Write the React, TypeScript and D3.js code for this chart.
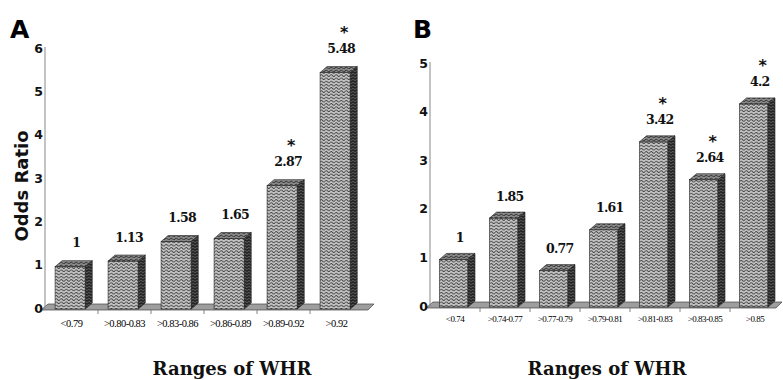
import React from "react";
import * as d3 from "d3";

// Panel A
const catsA = ["<0.79", ">0.80-0.83", ">0.83-0.86", ">0.86-0.89", ">0.89-0.92", ">0.92"];
const valsA = [1, 1.13, 1.58, 1.65, 2.87, 5.48];
const starA = [false, false, false, false, true, true];
const ticksA = [0, 1, 2, 3, 4, 5, 6];

// Panel B
const catsB = ["<0.74", ">0.74-0.77", ">0.77-0.79", ">0.79-0.81", ">0.81-0.83", ">0.83-0.85", ">0.85"];
const valsB = [1, 1.85, 0.77, 1.61, 3.42, 2.64, 4.2];
const starB = [false, false, false, false, true, true, true];
const ticksB = [0, 1, 2, 3, 4, 5];

const W = 783;
const H = 380;
const serif = "'DejaVu Serif', serif";
const sans = "'DejaVu Sans', 'Liberation Sans', sans-serif";

interface PanelProps {
  letter: string;
  letterX: number;
  cats: string[];
  vals: number[];
  stars: boolean[];
  ticks: number[];
  xRange: [number, number];
  yRange: [number, number];
  floorEnd: number;
  catY: number;
  catSize: number;
  labelOff: number;
  titleX: number;
  yTitle?: boolean;
}

function Panel(p: PanelProps) {
  const max = p.ticks[p.ticks.length - 1];
  const x = d3.scaleBand<string>().domain(p.cats).range(p.xRange).padding(0);
  const y = d3.scaleLinear().domain([0, max]).range(p.yRange);
  const step = x.step();
  const bw = step * 0.57;
  const off = step * 0.19;
  const dx = 7;
  const dy = 6;
  const axisX = p.xRange[0];
  const y0 = y(0);

  return (
    <g>
      <text x={p.letterX} y={38} fontFamily={sans} fontWeight="bold" fontSize={25}>{p.letter}</text>
      {/* floor */}
      <polygon
        points={`${axisX - 4},${y0 + 3} ${p.floorEnd},${y0 + 3} ${p.floorEnd + 6},${y0 - 3} ${axisX + 3},${y0 - 3}`}
        fill="#9e9e9e" stroke="#444" strokeWidth={0.7} />
      {/* y axis */}
      <line x1={axisX} x2={axisX} y1={y(max)} y2={y0 + 3} stroke="#888" strokeWidth={1} />
      {p.ticks.map(t => (
        <text key={t} x={axisX - 2} y={y(t) + 2} textAnchor="end" dominantBaseline="middle"
          fontFamily={sans} fontWeight="bold" fontSize={12.5} fill="#111">{t}</text>
      ))}
      {/* category ticks */}
      {p.cats.slice(1).map(c => (
        <line key={c} x1={x(c)!} x2={x(c)!} y1={y0 + 3} y2={y0 + 7} stroke="#666" strokeWidth={0.8} />
      ))}
      {p.cats.map((c, i) => {
        const v = p.vals[i];
        const bx = (x(c) as number) + off;
        const top = y(v) + 3;
        const bot = y0 + 2;
        const cx = bx + bw / 2;
        return (
          <g key={c}>
            <rect x={bx} y={top} width={bw} height={bot - top} fill="url(#waveFront)" stroke="#222" strokeWidth={0.6} />
            <polygon points={`${bx},${top} ${bx + dx},${top - dy} ${bx + bw + dx},${top - dy} ${bx + bw},${top}`}
              fill="url(#waveTop)" stroke="#222" strokeWidth={0.6} />
            <polygon points={`${bx + bw},${top} ${bx + bw + dx},${top - dy} ${bx + bw + dx},${bot - dy} ${bx + bw},${bot}`}
              fill="url(#waveSide)" stroke="#222" strokeWidth={0.6} />
            <text x={cx + 6} y={y(v) + p.labelOff} textAnchor="middle" dominantBaseline="middle"
              fontFamily={serif} fontWeight="bold" fontSize={12.5} letterSpacing={-0.7} fill="#111">{v}</text>
            {p.stars[i] && (
              <text x={cx + 9} y={y(v) + p.labelOff - 16} textAnchor="middle" dominantBaseline="middle"
                fontFamily={sans} fontWeight="bold" fontSize={16} fill="#111">*</text>
            )}
            <text x={(x(c) as number) + step / 2} y={p.catY} textAnchor="middle" dominantBaseline="middle"
              fontFamily="'Liberation Serif', serif" fontSize={p.catSize} letterSpacing={-0.5} fill="#000">{c}</text>
          </g>
        );
      })}
      <text x={p.titleX} y={375} textAnchor="middle" fontFamily={serif} fontWeight="bold" fontSize={18} fill="#111">Ranges of WHR</text>
      {p.yTitle && (
        <text transform={`translate(28,186) rotate(-90)`} textAnchor="middle"
          fontFamily={sans} fontWeight="bold" fontSize={18} fill="#111">Odds Ratio</text>
      )}
    </g>
  );
}

export default function App() {
  return (
    <svg width={W} height={H} style={{ position: "absolute", left: 0, top: 0, background: "#fff" }}>
      <defs>
        <pattern id="waveFront" width={5} height={3.2} patternUnits="userSpaceOnUse">
          <rect width={5} height={3.2} fill="#c4c4c4" />
          <path d="M0 2 Q1.25 0.4 2.5 2 T5 2" fill="none" stroke="#333" strokeWidth={0.9} />
        </pattern>
        <pattern id="waveTop" width={5} height={3} patternUnits="userSpaceOnUse">
          <rect width={5} height={3} fill="#8a8a8a" />
          <path d="M0 2 Q1.25 0.4 2.5 2 T5 2" fill="none" stroke="#222" strokeWidth={0.9} />
        </pattern>
        <pattern id="waveSide" width={4} height={3} patternUnits="userSpaceOnUse">
          <rect width={4} height={3} fill="#262626" />
          <path d="M0 2 Q1 0.8 2 2 T4 2" fill="none" stroke="#6a6a6a" strokeWidth={0.8} />
        </pattern>
      </defs>
      <Panel letter="A" letterX={10} cats={catsA} vals={valsA} stars={starA} ticks={ticksA}
        xRange={[45, 363]} yRange={[307, 47]} floorEnd={368} catY={325} catSize={10.5}
        labelOff={-20} titleX={232} yTitle />
      <Panel letter="B" letterX={413} cats={catsB} vals={valsB} stars={starB} ticks={ticksB}
        xRange={[430, 780]} yRange={[305, 62]} floorEnd={776} catY={320} catSize={9}
        labelOff={-18} titleX={607} />
    </svg>
  );
}
